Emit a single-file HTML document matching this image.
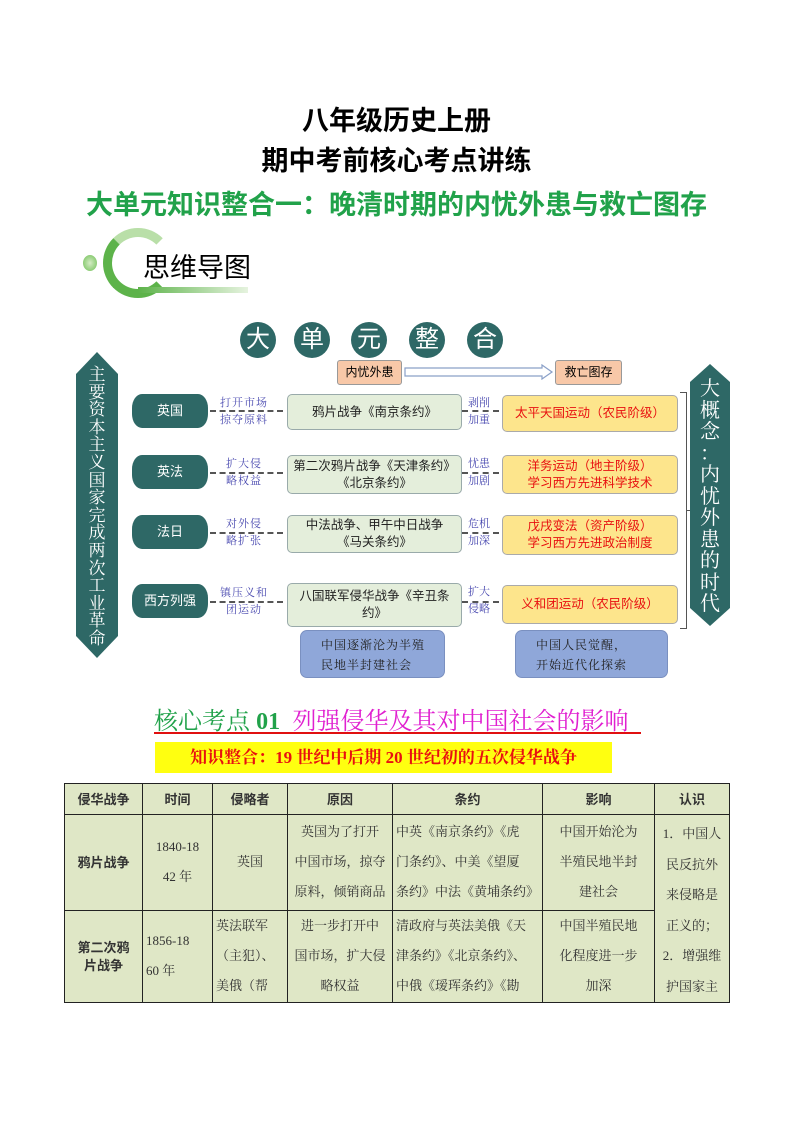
<!DOCTYPE html>
<html><head><meta charset="utf-8"><style>
body{margin:0;width:793px;height:1122px;background:#fff;position:relative;overflow:hidden;font-family:"Liberation Sans","Noto Sans CJK SC",sans-serif}
.a{position:absolute}
.t{left:0;width:793px;text-align:center;font-weight:bold;white-space:nowrap}
.c{position:absolute;width:36px;height:36px;border-radius:50%;background:#2e6866;color:#fff;font-size:24px;line-height:36px;text-align:center}
.tag{position:absolute;left:132px;width:76px;height:34px;background:#2e6866;color:#fff;font-size:13px;text-align:center;line-height:34px;border-radius:10px/14px}
.lab{position:absolute;left:212px;width:64px;font-size:11px;color:#4a4ab0;font-family:"Noto Serif CJK SC",serif;text-align:center;line-height:17px;letter-spacing:1px}
.lab2{position:absolute;left:462px;width:34px;font-size:11px;color:#4a4ab0;font-family:"Noto Serif CJK SC",serif;text-align:center;line-height:17px}
.da{position:absolute;height:0;border-top:2px dashed #555}
.g{position:absolute;left:287px;width:173px;background:#e4eedb;border:1px solid #9aa;border-radius:5px;font-size:12.5px;text-align:center;display:flex;align-items:center;justify-content:center;line-height:17px;color:#222}
.o{position:absolute;left:502px;width:174px;background:#fde58c;border:1px solid #aaa;border-radius:5px;font-size:12.5px;text-align:center;display:flex;align-items:center;justify-content:center;line-height:17px;color:#e81010}
.b{position:absolute;top:630px;height:48px;background:#8fa7d9;border:1px solid #7a90c0;border-radius:7px;font-size:12px;font-family:"Noto Serif CJK SC",serif;color:#222;line-height:20px;padding:4px 0 0 20px;box-sizing:border-box;letter-spacing:1px}
table{position:absolute;left:64px;top:783px;width:665px;table-layout:fixed;border-collapse:collapse;background:#dfe7c6;font-family:"Liberation Serif","Noto Serif CJK SC",serif;font-size:13px;color:#333}
td{border:1px solid #222;text-align:center;padding:0 3px;line-height:30px;white-space:nowrap;overflow:hidden}
th{border:1px solid #222;font-family:"Noto Sans CJK SC",sans-serif;font-size:13px;white-space:nowrap;line-height:18px;padding:0}
</style></head><body>
<div class="a t" style="top:99px;font-size:27px">八年级历史上册</div>
<div class="a t" style="top:139px;font-size:27px">期中考前核心考点讲练</div>
<div class="a t" style="top:183px;font-size:27px;color:#21a24a">大单元知识整合一：晚清时期的内忧外患与救亡图存</div>
<div class="a" style="left:83px;top:255px;width:14px;height:16px;border-radius:50%;background:radial-gradient(#d4ecc4,#6fbf55)"></div>
<div class="a" style="left:103px;top:228px;width:70px;height:70px;border-radius:50%;border:9px solid #5db34a;border-right-color:transparent;border-top-color:#b9dfa8;box-sizing:border-box"></div>
<div class="a" style="left:138px;top:287px;width:110px;height:6px;background:linear-gradient(90deg,#5db34a,#e6f3df)"></div>
<div class="a" style="left:143px;top:246px;font-size:27px">思维导图</div>
<div class="c" style="left:240px;top:322px">大</div>
<div class="c" style="left:294px;top:322px">单</div>
<div class="c" style="left:351px;top:322px">元</div>
<div class="c" style="left:409px;top:322px">整</div>
<div class="c" style="left:467px;top:322px">合</div>
<svg class="a" style="left:74px;top:352px" width="46" height="306"><polygon points="23,0 44,22 44,284 23,306 2,284 2,22" fill="#2e6866"/></svg>
<div class="a" style="left:76px;top:364px;width:42px;color:#fff;font-size:17px;line-height:17.6px;text-align:center;font-family:'Noto Serif CJK SC',serif">主<br>要<br>资<br>本<br>主<br>义<br>国<br>家<br>完<br>成<br>两<br>次<br>工<br>业<br>革<br>命</div>
<svg class="a" style="left:688px;top:364px" width="44" height="262"><polygon points="22,0 42,18 42,244 22,262 2,244 2,18" fill="#2e6866"/></svg>
<div class="a" style="left:690px;top:376px;width:40px;color:#fff;font-size:20px;line-height:21.5px;text-align:center;font-family:'Noto Serif CJK SC',serif">大<br>概<br>念<br>：<br>内<br>忧<br>外<br>患<br>的<br>时<br>代</div>
<div class="a" style="left:337px;top:360px;width:63px;height:23px;background:#f8c8a8;border:1px solid #999;border-radius:3px;font-size:12px;line-height:23px;text-align:center">内忧外患</div>
<svg class="a" style="left:404px;top:364px" width="150" height="16"><polygon points="1,4 138,4 138,1 148,8 138,15 138,12 1,12" fill="#fff" stroke="#8aa0c8" stroke-width="1.2"/></svg>
<div class="a" style="left:555px;top:360px;width:65px;height:23px;background:#f8c8a8;border:1px solid #999;border-radius:3px;font-size:12px;line-height:23px;text-align:center">救亡图存</div>
<div class="tag" style="top:394px">英国</div>
<div class="lab" style="top:394px">打开市场<br>掠夺原料</div>
<div class="da" style="left:210px;top:410px;width:73px"></div>
<div class="g" style="top:394px;height:34px">鸦片战争《南京条约》</div>
<div class="lab2" style="top:394px">剥削<br>加重</div>
<div class="da" style="left:462px;top:410px;width:37px"></div>
<div class="o" style="top:395px;height:35px">太平天国运动（农民阶级）</div>
<div class="tag" style="top:455px">英法</div>
<div class="lab" style="top:455px">扩大侵<br>略权益</div>
<div class="da" style="left:210px;top:472px;width:73px"></div>
<div class="g" style="top:455px;height:37px">第二次鸦片战争《天津条约》<br>《北京条约》</div>
<div class="lab2" style="top:455px">忧患<br>加剧</div>
<div class="da" style="left:462px;top:472px;width:37px"></div>
<div class="o" style="top:455px;height:37px">洋务运动（地主阶级）<br>学习西方先进科学技术</div>
<div class="tag" style="top:515px">法日</div>
<div class="lab" style="top:515px">对外侵<br>略扩张</div>
<div class="da" style="left:210px;top:532px;width:73px"></div>
<div class="g" style="top:515px;height:36px">中法战争、甲午中日战争<br>《马关条约》</div>
<div class="lab2" style="top:515px">危机<br>加深</div>
<div class="da" style="left:462px;top:532px;width:37px"></div>
<div class="o" style="top:515px;height:38px">戊戌变法（资产阶级）<br>学习西方先进政治制度</div>
<div class="tag" style="top:584px">西方列强</div>
<div class="lab" style="top:584px">镇压义和<br>团运动</div>
<div class="da" style="left:210px;top:601px;width:73px"></div>
<div class="g" style="top:583px;height:42px">八国联军侵华战争《辛丑条<br>约》</div>
<div class="lab2" style="top:583px">扩大<br>侵略</div>
<div class="da" style="left:462px;top:601px;width:37px"></div>
<div class="o" style="top:585px;height:37px">义和团运动（农民阶级）</div>
<div class="a" style="left:680px;top:392px;width:6px;height:235px;border:1px solid #555;border-left:none"></div>
<div class="a" style="left:686px;top:510px;width:4px;height:1px;background:#555"></div>
<div class="b" style="left:300px;width:145px">中国逐渐沦为半殖<br>民地半封建社会</div>
<div class="b" style="left:515px;width:153px">中国人民觉醒，<br>开始近代化探索</div>
<div class="a" style="left:154px;top:704px;font-size:24px;font-family:'Noto Serif CJK SC',serif;white-space:nowrap;line-height:30px"><span style="color:#21a24a">核心考点 <b style="font-family:'Liberation Serif'">01</b></span>&nbsp;&nbsp;<span style="color:#e020d0">列强侵华及其对中国社会的影响</span></div>
<div class="a" style="left:154px;top:732px;width:487px;height:2px;background:#e01010"></div>
<div class="a" style="left:155px;top:742px;width:457px;height:31px;background:#ffff10;color:#e81010;font-size:17px;font-weight:bold;line-height:31px;text-align:center;font-family:'Liberation Serif','Noto Serif CJK SC',serif;white-space:nowrap">知识整合：19 世纪中后期 20 世纪初的五次侵华战争</div>
<table>
<colgroup><col style="width:78px"><col style="width:70px"><col style="width:75px"><col style="width:105px"><col style="width:150px"><col style="width:112px"><col style="width:75px"></colgroup>
<tr style="height:31px"><th>侵华战争</th><th>时间</th><th>侵略者</th><th>原因</th><th>条约</th><th>影响</th><th>认识</th></tr>
<tr style="height:95px"><th>鸦片战争</th><td>1840-18<br>42 年</td><td>英国</td><td>英国为了打开<br>中国市场，掠夺<br>原料，倾销商品</td><td style="text-align:left">中英《南京条约》《虎<br>门条约》、中美《望厦<br>条约》中法《黄埔条约》</td><td>中国开始沦为<br>半殖民地半封<br>建社会</td><td rowspan="2" style="vertical-align:top;padding-top:4px;line-height:30.5px">1．中国人<br>民反抗外<br>来侵略是<br>正义的；<br>2．增强维<br>护国家主</td></tr>
<tr style="height:92px"><th>第二次鸦<br>片战争</th><td style="text-align:left">1856-18<br>60 年</td><td style="text-align:left">英法联军<br>（主犯）、<br>美俄（帮</td><td>进一步打开中<br>国市场，扩大侵<br>略权益</td><td style="text-align:left">清政府与英法美俄《天<br>津条约》《北京条约》、<br>中俄《瑷珲条约》《勘</td><td>中国半殖民地<br>化程度进一步<br>加深</td></tr>
</table>
</body></html>
